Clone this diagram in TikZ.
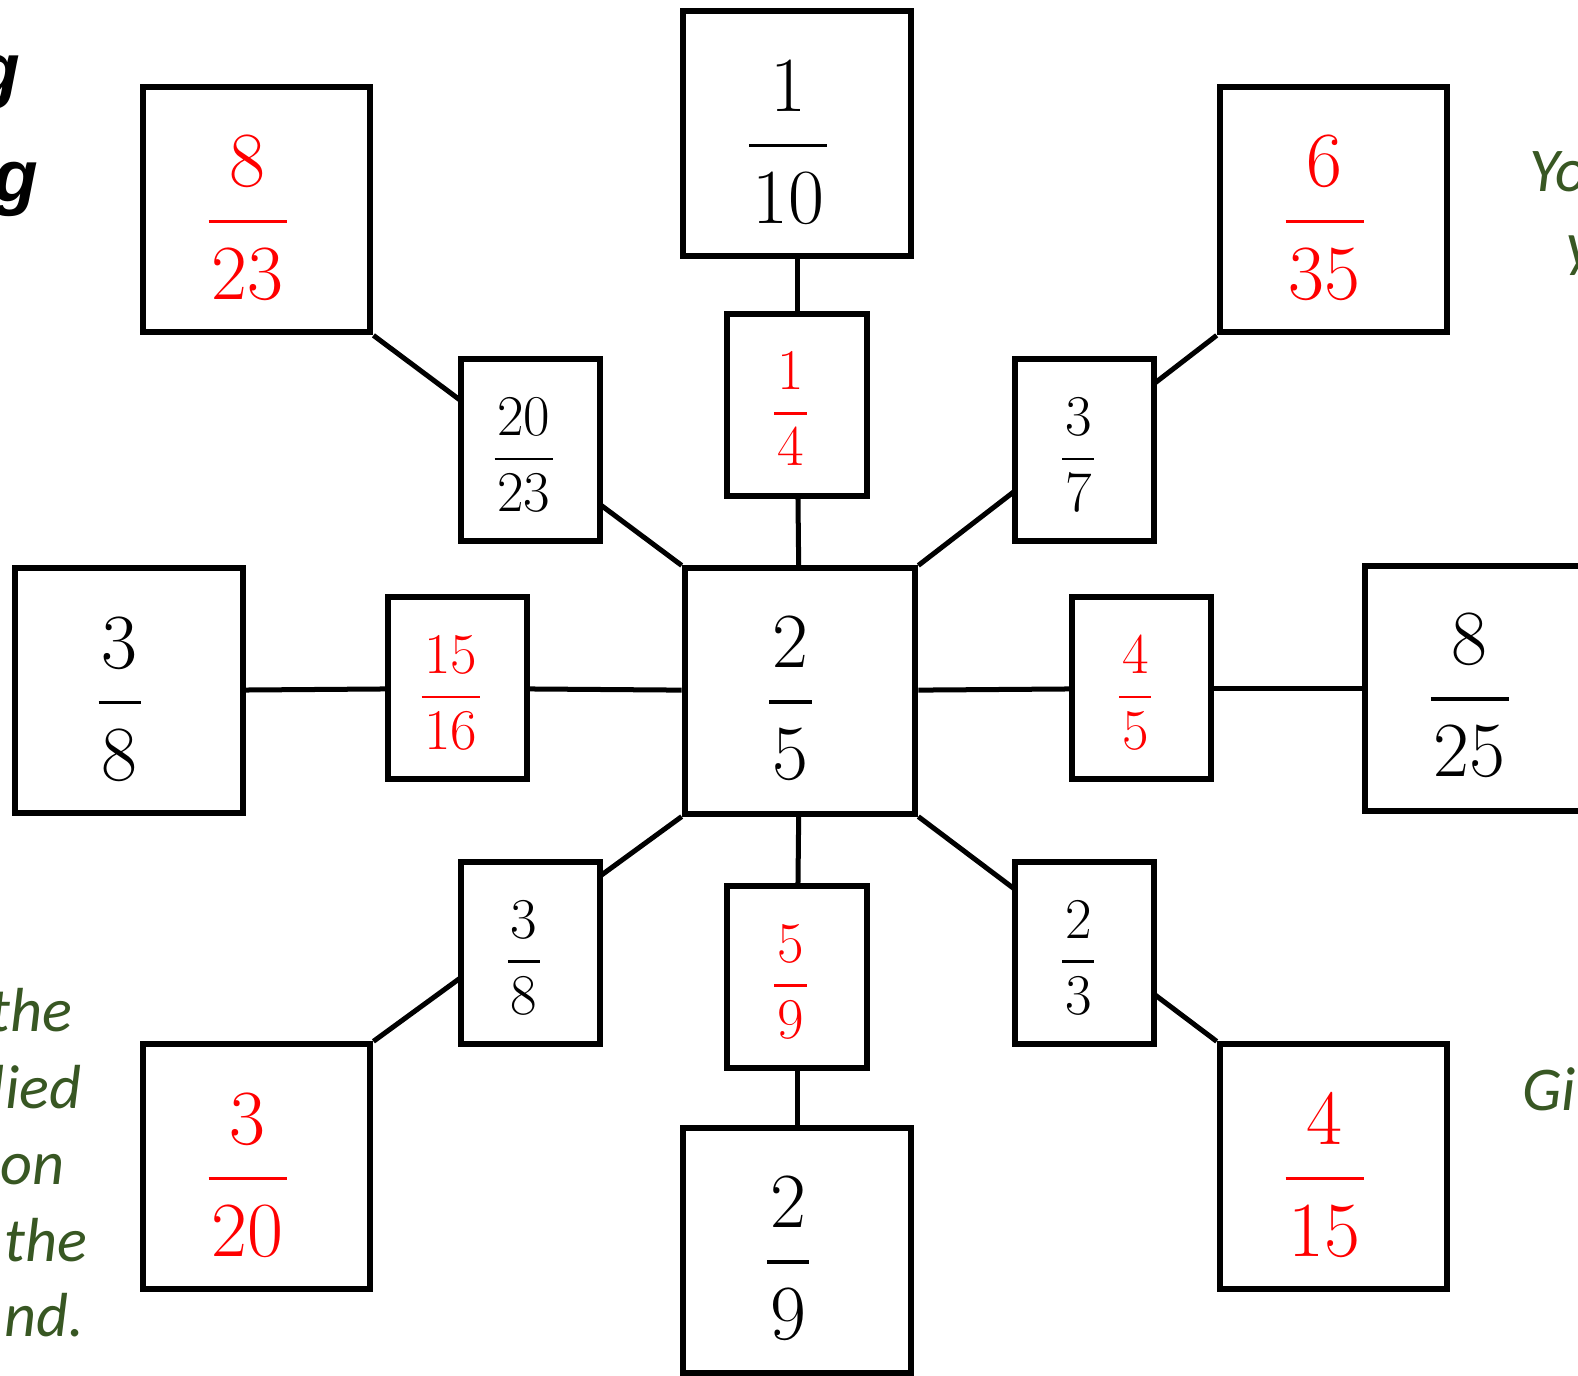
\documentclass[tikz,border=0pt]{standalone}
\usepackage{fontspec}
\newfontfamily\calib{Carlito}
\newfontfamily\arialf{Liberation Sans}
\definecolor{dgreen}{HTML}{385723}
\definecolor{fred}{HTML}{FF0000}
\pgfdeclarelayer{bg}
\pgfsetlayers{bg,main}
\newcommand\fracbig[2]{{\fontsize{22.2pt}{30.9pt}\selectfont\setlength\arrayrulewidth{1pt}\setlength\tabcolsep{0.9pt}\begin{tabular}{c}#1\\\hline #2\end{tabular}}}
\newcommand\fracsmall[2]{{\fontsize{16.4pt}{20.8pt}\selectfont\setlength\arrayrulewidth{0.8pt}\setlength\tabcolsep{0.8pt}\begin{tabular}{c}#1\\\hline #2\end{tabular}}}
\tikzset{
  bigbox/.style={draw, line width=0.06cm, minimum width=2.275cm, minimum height=2.45cm, inner sep=0pt, fill=white},
  cenbox/.style={draw, line width=0.06cm, minimum width=2.305cm, minimum height=2.45cm, inner sep=0pt, fill=white},
  smallbox/.style={draw, line width=0.06cm, minimum width=1.39cm, minimum height=1.82cm, inner sep=0pt, fill=white},
  conn/.style={line width=0.05cm},
  frtxt/.style={inner sep=0pt},
  redtxt/.style={inner sep=0pt, text=fred},
  greentxt/.style={inner sep=0pt, text=dgreen, font=\calib\itshape\fontsize{17.7pt}{21pt}\selectfont},
  blacktxt/.style={inner sep=0pt, font=\arialf\bfseries\itshape\fontsize{20.8pt}{25pt}\selectfont}
}
\begin{document}
\begin{tikzpicture}[x=0.01cm,y=-0.01cm]
\useasboundingbox (0,0) rectangle (1578,1375);
% boxes
\node[cenbox] (c) at (800,691) {};
\node[bigbox] (tb) at (797,133.9) {};
\node[smallbox] (ts) at (797,404.6) {};
\node[bigbox] (tlb) at (256.6,209.8) {};
\node[smallbox] (tls) at (530.4,450.4) {};
\node[smallbox] (trs) at (1084.9,450.4) {};
\node[bigbox] (trb) at (1333.5,209.8) {};
\node[bigbox] (lb) at (128.8,690.9) {};
\node[smallbox] (ls) at (457.4,688.4) {};
\node[smallbox] (rs) at (1141.8,688.4) {};
\node[bigbox] (rb) at (1478.4,688.4) {};
\node[smallbox] (bls) at (530.4,953.1) {};
\node[smallbox] (bs) at (797,977.2) {};
\node[smallbox] (brs) at (1084.9,953.1) {};
\node[bigbox] (blb) at (256.6,1166.9) {};
\node[bigbox] (bb) at (797,1250.5) {};
\node[bigbox] (brb) at (1333.5,1166.9) {};
% connectors
\begin{pgfonlayer}{bg}
\draw[conn] (tb) -- (ts);
\draw[conn] (ts) -- (c);
\draw[conn] (tlb.south east) -- (c.north west);
\draw[conn] (c.north east) -- (trb.south west);
\draw[conn] (lb) -- (ls);
\draw[conn] (ls) -- (c);
\draw[conn] (c) -- (rs);
\draw[conn] (rs) -- (rb);
\draw[conn] (c.south west) -- (blb.north east);
\draw[conn] (c) -- (bs);
\draw[conn] (bs) -- (bb);
\draw[conn] (c.south east) -- (brb.north west);
\end{pgfonlayer}
% fractions
\node[frtxt] (cf) at ([shift={(-9.5,11)}]c.center) {\fracbig{2}{5}};
\node[frtxt] (tbf) at ([shift={(-9,11.5)}]tb.center) {\fracbig{1}{10}};
\node[redtxt] (tsf) at ([shift={(-6.5,8.5)}]ts.center) {\fracsmall{1}{4}};
\node[redtxt] (tlbf) at ([shift={(-9,11.5)}]tlb.center) {\fracbig{8}{23}};
\node[frtxt] (tlsf) at ([shift={(-6.5,8.5)}]tls.center) {\fracsmall{20}{23}};
\node[frtxt] (trsf) at ([shift={(-6.5,8.5)}]trs.center) {\fracsmall{3}{7}};
\node[redtxt] (trbf) at ([shift={(-9,11.5)}]trb.center) {\fracbig{6}{35}};
\node[frtxt] (lbf) at ([shift={(-9,11.5)}]lb.center) {\fracbig{3}{8}};
\node[redtxt] (lsf) at ([shift={(-6.5,8.5)}]ls.center) {\fracsmall{15}{16}};
\node[redtxt] (rsf) at ([shift={(-6.5,8.5)}]rs.center) {\fracsmall{4}{5}};
\node[frtxt] (rbf) at (1469.8,698.9) {\fracbig{8}{25}};
\node[frtxt] (blsf) at ([shift={(-6.5,8.5)}]bls.center) {\fracsmall{3}{8}};
\node[redtxt] (bsf) at ([shift={(-6.5,8.5)}]bs.center) {\fracsmall{5}{9}};
\node[frtxt] (brsf) at ([shift={(-6.5,8.5)}]brs.center) {\fracsmall{2}{3}};
\node[redtxt] (blbf) at ([shift={(-9,11.5)}]blb.center) {\fracbig{3}{20}};
\node[frtxt] (bbf) at ([shift={(-9,11.5)}]bb.center) {\fracbig{2}{9}};
\node[redtxt] (brbf) at ([shift={(-9,11.5)}]brb.center) {\fracbig{4}{15}};
% edge texts
\node[blacktxt, anchor=base east] (g1) at (21,94.7) {g};
\node[blacktxt, anchor=base east] (g2) at (39,201.4) {g};
\node[greentxt, anchor=base west] (r1) at (1529,191.7) {You};
\node[greentxt, anchor=base west] (r2) at (1566,265.6) {y};
\node[greentxt, anchor=base west] (r3) at (1522,1110) {Gi};
\node[greentxt, anchor=base east] (l1) at (73,1031.7) {the};
\node[greentxt, anchor=base east] (l2) at (82,1108.3) {lied};
\node[greentxt, anchor=base east] (l3) at (65,1184) {on};
\node[greentxt, anchor=base east] (l4) at (88,1261.7) {the};
\node[greentxt, anchor=base east] (l5) at (85,1336.7) {nd.};
\end{tikzpicture}
\end{document}
